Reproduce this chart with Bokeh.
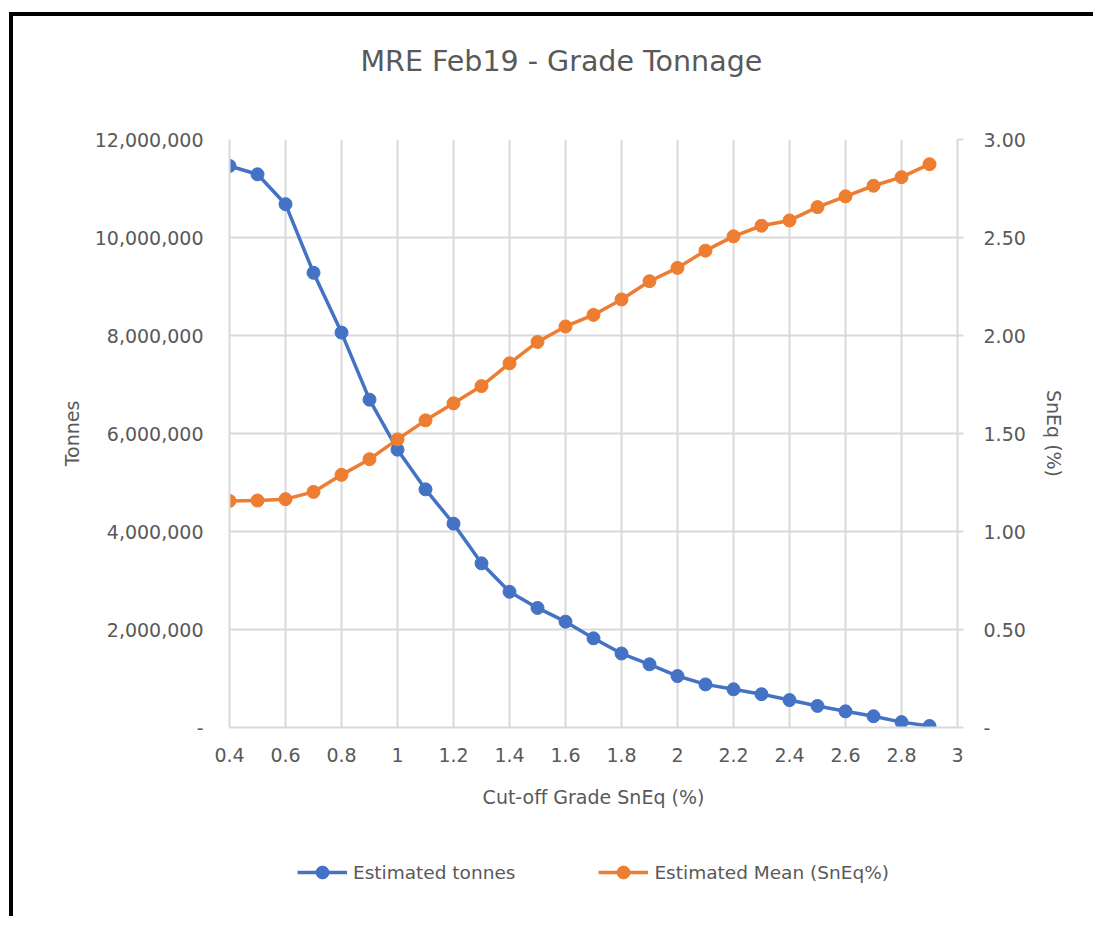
from bokeh.plotting import figure
from bokeh.models import Range1d, LinearAxis, FixedTicker, Legend, LegendItem
from bokeh.layouts import column
from bokeh.embed import file_html
from bokeh.resources import INLINE

# ---- data ----
cutoff = [0.4, 0.5, 0.6, 0.7, 0.8, 0.9, 1.0, 1.1, 1.2, 1.3, 1.4, 1.5, 1.6,
          1.7, 1.8, 1.9, 2.0, 2.1, 2.2, 2.3, 2.4, 2.5, 2.6, 2.7, 2.8, 2.9]
tonnes = [11460000, 11290000, 10680000, 9280000, 8060000, 6690000, 5670000,
          4860000, 4160000, 3350000, 2770000, 2440000, 2160000, 1820000,
          1510000, 1290000, 1050000, 880000, 780000, 680000, 560000, 440000,
          330000, 230000, 110000, 30000]
mean_sneq = [1.156, 1.158, 1.165, 1.202, 1.289, 1.369, 1.470, 1.567, 1.654,
             1.742, 1.858, 1.967, 2.046, 2.105, 2.184, 2.277, 2.345, 2.433,
             2.506, 2.560, 2.587, 2.655, 2.710, 2.764, 2.808, 2.874]

x_ticks = [0.4, 0.6, 0.8, 1.0, 1.2, 1.4, 1.6, 1.8, 2.0, 2.2, 2.4, 2.6, 2.8, 3.0]
x_tick_labels = ["0.4", "0.6", "0.8", "1", "1.2", "1.4", "1.6", "1.8", "2",
                 "2.2", "2.4", "2.6", "2.8", "3"]
y_ticks = [0, 2000000, 4000000, 6000000, 8000000, 10000000, 12000000]
y_tick_labels = ["-", "2,000,000", "4,000,000", "6,000,000", "8,000,000",
                 "10,000,000", "12,000,000"]
y2_ticks = [0.0, 0.5, 1.0, 1.5, 2.0, 2.5, 3.0]
y2_tick_labels = ["-", "0.50", "1.00", "1.50", "2.00", "2.50", "3.00"]

title_text = "MRE Feb19 - Grade Tonnage"
x_label = "Cut-off Grade SnEq (%)"
y_label = "Tonnes"
y2_label = "SnEq (%)"
series_names = ["Estimated tonnes", "Estimated Mean (SnEq%)"]

BLUE = "#4472C4"
ORANGE = "#ED7D31"
GRID = "#D9D9D9"
TXT = "#595959"
FONT = "DejaVu Sans"


def strip(height, top):
    f = figure(width=1080, height=height, output_backend="svg",
               toolbar_location=None,
               x_range=Range1d(100, 101), y_range=Range1d(100, 101),
               x_axis_location=None, y_axis_location=None,
               min_border_left=216, min_border_right=136, min_border_top=top,
               min_border_bottom=0)
    f.outline_line_color = None
    f.xgrid.visible = False
    f.ygrid.visible = False
    f.border_fill_color = "white"
    f.background_fill_color = "white"
    return f


# ---------------- title strip ----------------
t = strip(111, 0)
t.title.text = title_text
t.title.text_font = FONT
t.title.text_font_size = "28.5px"
t.title.text_font_style = "normal"
t.title.text_color = TXT
t.title.align = "left"
t.title.offset = 131
t.title.standoff = 52

# ---------------- main chart ----------------
p = figure(width=1080, height=689, output_backend="svg", toolbar_location=None,
           x_range=Range1d(0.4, 3.0), y_range=Range1d(0, 12000000),
           min_border_left=216, min_border_right=136, min_border_top=12,
           min_border_bottom=89)
p.title.text = ""
p.title.standoff = 0
p.outline_line_color = None
p.background_fill_color = "white"
p.border_fill_color = "white"

p.extra_y_ranges = {"mean": Range1d(0, 3.0)}

ya = p.yaxis[0]
ya.ticker = FixedTicker(ticks=y_ticks)
ya.major_label_overrides = dict(zip(y_ticks, y_tick_labels))
ya.axis_label = y_label

xa = p.xaxis[0]
xa.ticker = FixedTicker(ticks=x_ticks)
xa.major_label_overrides = dict(zip(x_ticks, x_tick_labels))
xa.axis_label = x_label

ra = LinearAxis(y_range_name="mean", ticker=FixedTicker(ticks=y2_ticks),
                axis_label=y2_label)
ra.major_label_overrides = dict(zip(y2_ticks, y2_tick_labels))
p.add_layout(ra, "right")

for ax in [ya, xa, ra]:
    ax.axis_line_color = GRID
    ax.axis_line_width = 2
    ax.major_tick_in = 0
    ax.major_tick_out = 0
    ax.minor_tick_line_color = None
    ax.major_tick_line_color = GRID
    ax.major_tick_line_width = 2
    ax.major_label_text_font = FONT
    ax.major_label_text_font_size = "19px"
    ax.major_label_text_color = TXT
    ax.axis_label_text_font = FONT
    ax.axis_label_text_font_size = "19px"
    ax.axis_label_text_font_style = "normal"
    ax.axis_label_text_color = TXT

ra.major_tick_out = 6
ya.major_label_standoff = 26
ya.axis_label_standoff = 9
xa.major_label_standoff = 20
xa.axis_label_standoff = 21
ra.major_label_standoff = 20
ra.axis_label_standoff = 14

p.xgrid.ticker = FixedTicker(ticks=x_ticks)
p.xgrid.grid_line_color = GRID
p.xgrid.grid_line_width = 2
p.ygrid.ticker = FixedTicker(ticks=y_ticks)
p.ygrid.grid_line_color = GRID
p.ygrid.grid_line_width = 2

p.line(cutoff, tonnes, line_color=BLUE, line_width=3.5)
p.scatter(cutoff, tonnes, size=13, fill_color=BLUE, line_color=BLUE)
p.line(cutoff, mean_sneq, line_color=ORANGE, line_width=3.5, y_range_name="mean")
p.scatter(cutoff, mean_sneq, size=13, fill_color=ORANGE, line_color=ORANGE,
          y_range_name="mean")

# ---------------- legend strip ----------------
q = strip(100, 12)
ql1 = q.line(cutoff, tonnes, line_color=BLUE, line_width=3.5)
qs1 = q.scatter(cutoff, tonnes, size=13, fill_color=BLUE, line_color=BLUE)
ql2 = q.line(cutoff, mean_sneq, line_color=ORANGE, line_width=3.5)
qs2 = q.scatter(cutoff, mean_sneq, size=13, fill_color=ORANGE, line_color=ORANGE)

legend = Legend(items=[LegendItem(label=series_names[0], renderers=[ql1, qs1]),
                       LegendItem(label=series_names[1], renderers=[ql2, qs2])],
                orientation="horizontal", location="center",
                border_line_color=None, background_fill_alpha=0,
                label_text_font=FONT, label_text_font_size="18.5px",
                label_text_color=TXT, glyph_width=50, glyph_height=32,
                label_standoff=6, spacing=83, margin=0, padding=4)
q.add_layout(legend, "center")

layout = column(t, p, q, spacing=0)
layout.styles = {"border-top": "4px solid black", "border-left": "4px solid black",
                 "margin-top": "12px", "margin-left": "9px"}

open("out.html", "w").write(file_html(layout, INLINE))
